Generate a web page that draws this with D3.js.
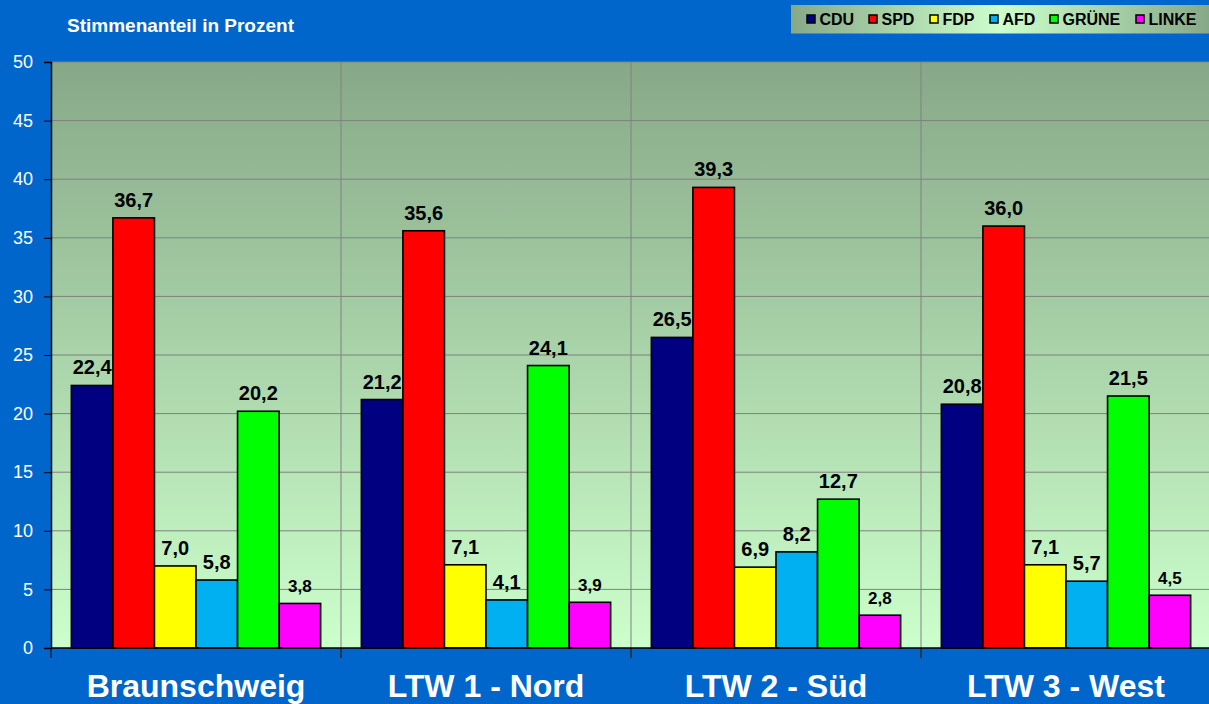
<!DOCTYPE html>
<html>
<head>
<meta charset="utf-8">
<script src="https://cdn.jsdelivr.net/npm/d3@7"></script>
<style>
  html, body { margin: 0; padding: 0; background: #0066cc; }
  svg { display: block; font-family: "Liberation Sans", Arial, sans-serif; }
</style>
</head>
<body>
<svg></svg>
<script>
(() => {
    const regions = ["Braunschweig", "LTW 1 - Nord", "LTW 2 - Süd", "LTW 3 - West"];
    const parties = ["CDU", "SPD", "FDP", "AFD", "GRÜNE", "LINKE"];
    const partyColors = ["#000080", "#ff0000", "#ffff00", "#00b0f0", "#00ff00", "#ff00ff"];
    const cdu = [22.4, 21.2, 26.5, 20.8];
    const spd = [36.7, 35.6, 39.3, 36.0];
    const fdp = [7.0, 7.1, 6.9, 7.1];
    const afd = [5.8, 4.1, 8.2, 5.7];
    const gruene = [20.2, 24.1, 12.7, 21.5];
    const linke = [3.8, 3.9, 2.8, 4.5];
    const yTicks = [0, 5, 10, 15, 20, 25, 30, 35, 40, 45, 50];

    const series = [cdu, spd, fdp, afd, gruene, linke];
    const width = 1209;
    const height = 704;
    const plot = { left: 51, right: 1211, top: 62, bottom: 648 };

    const svg = d3.select("svg")
        .attr("width", width)
        .attr("height", height);

    const defs = svg.append("defs");
    const vGrad = defs.append("linearGradient")
        .attr("id", "plotBg")
        .attr("x1", 0).attr("y1", 0).attr("x2", 0).attr("y2", 1);
    vGrad.append("stop").attr("offset", "0%").attr("stop-color", "#87a887");
    vGrad.append("stop").attr("offset", "100%").attr("stop-color", "#ccffcc");

    const hGrad = defs.append("linearGradient")
        .attr("id", "legendBg")
        .attr("x1", 0).attr("y1", 0).attr("x2", 1).attr("y2", 0);
    hGrad.append("stop").attr("offset", "0%").attr("stop-color", "#87a887");
    hGrad.append("stop").attr("offset", "50%").attr("stop-color", "#ccffcc");
    hGrad.append("stop").attr("offset", "100%").attr("stop-color", "#87a887");

    const x0 = d3.scaleBand()
        .domain(regions)
        .range([plot.left, plot.right])
        .padding(0);

    const x1 = d3.scaleBand()
        .domain(parties)
        .range([0, x0.bandwidth()])
        .paddingInner(0)
        .paddingOuter(0.49);

    const y = d3.scaleLinear()
        .domain([0, 50])
        .range([plot.bottom, plot.top]);

    const fmt = v => v.toFixed(1).replace(".", ",");

    // plot background
    svg.append("rect")
        .attr("x", plot.left)
        .attr("y", plot.top)
        .attr("width", plot.right - plot.left)
        .attr("height", plot.bottom - plot.top)
        .attr("fill", "url(#plotBg)");

    // horizontal grid
    svg.append("g")
        .selectAll("line")
        .data(yTicks.filter(d => d > 0))
        .join("line")
        .attr("x1", plot.left)
        .attr("x2", plot.right)
        .attr("y1", d => y(d))
        .attr("y2", d => y(d))
        .attr("stroke", "#808080")
        .attr("stroke-width", 1);

    // vertical grid at group borders
    svg.append("g")
        .selectAll("line")
        .data(regions.slice(1))
        .join("line")
        .attr("x1", d => x0(d))
        .attr("x2", d => x0(d))
        .attr("y1", plot.top)
        .attr("y2", plot.bottom + 10)
        .attr("stroke", "#808080")
        .attr("stroke-width", 1);

    // bars
    const rows = (r, ri) => parties.map((p, pi) => ({ party: p, i: pi, value: series[pi][ri] }));

    const groups = svg.append("g")
        .selectAll("g")
        .data(regions)
        .join("g")
        .attr("transform", d => `translate(${x0(d)},0)`);

    groups.selectAll("rect")
        .data(rows)
        .join("rect")
        .attr("x", d => x1(d.party))
        .attr("y", d => y(d.value))
        .attr("width", x1.bandwidth())
        .attr("height", d => y(0) - y(d.value))
        .attr("fill", d => partyColors[d.i])
        .attr("stroke", "#000")
        .attr("stroke-width", 1.6);

    groups.selectAll("text")
        .data(rows)
        .join("text")
        .attr("x", d => x1(d.party) + x1.bandwidth() / 2)
        .attr("y", d => y(d.value) - 11)
        .attr("text-anchor", "middle")
        .attr("font-weight", "bold")
        .attr("font-size", d => d.party === "LINKE" ? 17 : 20)
        .attr("fill", "#000")
        .text(d => fmt(d.value));

    // y axis
    const yAxis = svg.append("g")
        .attr("transform", `translate(${plot.left},0)`)
        .call(d3.axisLeft(y).tickValues(yTicks).tickSize(7).tickPadding(11));
    yAxis.select(".domain").attr("stroke", "#000").attr("stroke-width", 1.5);
    yAxis.selectAll(".tick line").attr("stroke", "#000");
    yAxis.selectAll(".tick text")
        .attr("fill", "#fff")
        .attr("font-size", 18)
        .attr("font-family", "Liberation Sans, Arial, sans-serif");

    // x axis baseline
    svg.append("line")
        .attr("x1", plot.left)
        .attr("x2", plot.right)
        .attr("y1", plot.bottom)
        .attr("y2", plot.bottom)
        .attr("stroke", "#000")
        .attr("stroke-width", 1.5);

    svg.append("g")
        .selectAll("line")
        .data(regions.slice(1))
        .join("line")
        .attr("x1", d => x0(d))
        .attr("x2", d => x0(d))
        .attr("y1", plot.bottom)
        .attr("y2", plot.bottom + 10)
        .attr("stroke", "#000")
        .attr("stroke-width", 1);

    svg.append("line")
        .attr("x1", plot.left).attr("x2", plot.left)
        .attr("y1", plot.bottom).attr("y2", plot.bottom + 10)
        .attr("stroke", "#000");

    // category labels
    svg.append("g")
        .selectAll("text")
        .data(regions)
        .join("text")
        .attr("x", d => x0(d) + x0.bandwidth() / 2)
        .attr("y", 697)
        .attr("text-anchor", "middle")
        .attr("font-weight", "bold")
        .attr("font-size", 32)
        .attr("fill", "#fff")
        .text(d => d);

    // title
    svg.append("text")
        .attr("x", 67)
        .attr("y", 31.5)
        .attr("font-weight", "bold")
        .attr("font-size", 19)
        .attr("fill", "#fff")
        .text("Stimmenanteil in Prozent");

    // legend
    const legend = svg.append("g").attr("transform", "translate(791,5)");
    legend.append("rect")
        .attr("width", 418)
        .attr("height", 28.5)
        .attr("fill", "url(#legendBg)");

    const legendX = [16, 78, 139, 199, 259, 345];
    const items = legend.selectAll("g")
        .data(parties)
        .join("g")
        .attr("transform", (d, i) => `translate(${legendX[i]},0)`);
    items.append("rect")
        .attr("x", 0)
        .attr("y", 10)
        .attr("width", 8)
        .attr("height", 8)
        .attr("fill", (d, i) => partyColors[i])
        .attr("stroke", "#000")
        .attr("stroke-width", 1.5);
    items.append("text")
        .attr("x", 12.5)
        .attr("y", 20)
        .attr("font-weight", "bold")
        .attr("font-size", 16)
        .attr("fill", "#000")
        .text(d => d);
})();
</script>
</body>
</html>
